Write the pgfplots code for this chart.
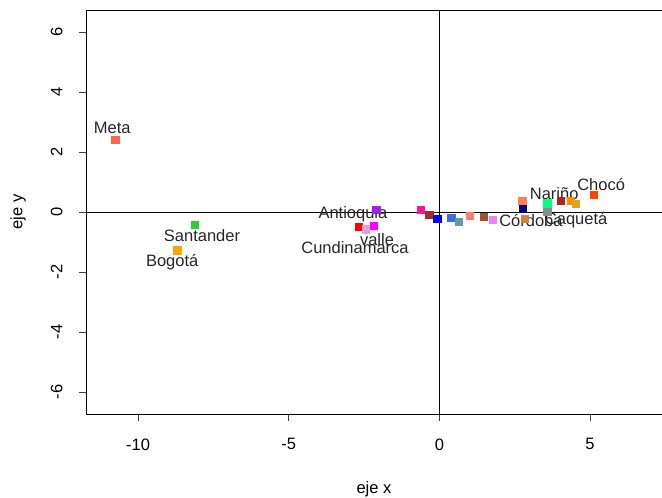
\documentclass[border=0pt]{standalone}
\usepackage{pgfplots}
\pgfplotsset{compat=1.18}
\usepackage{fontspec}
\setmainfont{Liberation Sans}
\definecolor{ctomato}{HTML}{FF6347}
\definecolor{climegreen}{HTML}{32CD32}
\definecolor{corange}{HTML}{FFA500}
\definecolor{cpurple}{HTML}{A020F0}
\definecolor{cred}{HTML}{FF0000}
\definecolor{cplum}{HTML}{DDA0DD}
\definecolor{cmagenta}{HTML}{FF00FF}
\definecolor{cdeeppink}{HTML}{FF1493}
\definecolor{cbrown}{HTML}{A52A2A}
\definecolor{cblue}{HTML}{0000FF}
\definecolor{croyalblue}{HTML}{4169E1}
\definecolor{ccadetblue}{HTML}{5F9EA0}
\definecolor{csalmon}{HTML}{FA8072}
\definecolor{csienna}{HTML}{A0522D}
\definecolor{cviolet}{HTML}{EE82EE}
\definecolor{ccoral}{HTML}{FF7F50}
\definecolor{cnavy}{HTML}{000080}
\definecolor{cperu}{HTML}{CD853F}
\definecolor{cspringgreen}{HTML}{00FF7F}
\definecolor{cgray}{HTML}{8C8C8C}
\definecolor{cfirebrick}{HTML}{B22222}
\definecolor{cdarkorange}{HTML}{FF8C00}
\definecolor{cgoldenrod}{HTML}{DAA520}
\definecolor{corangered}{HTML}{FF4500}
\begin{document}
\begin{tikzpicture}
\useasboundingbox (-86pt,-84pt) rectangle (576pt,414pt);
\begin{axis}[
  at={(0,0)}, anchor=south west,
  width=576pt, height=404pt, scale only axis,
  xmin=-11.73, xmax=7.39, ymin=-6.73, ymax=6.73,
  axis x line=box, axis y line=left,
  axis line style={line width=0.8pt, -},
  xtick={-10,-5,0,5}, ytick={-6,-4,-2,0,2,4,6},
  xtick pos=bottom, ytick pos=left,
  tick align=outside, major tick length=7pt,
  tick style={line width=0.8pt, black!75},
  /pgf/number format/assume math mode=true,
  ticklabel style={font=\fontsize{16.5}{19}\selectfont},
  xticklabel style={yshift=-14pt},
  yticklabel style={rotate=90, anchor=south, yshift=13pt},
  xlabel={eje x}, ylabel={eje y},
  label style={font=\fontsize{16.5}{19}\selectfont},
  xlabel style={at={(axis description cs:0.5,-0.1856)}, anchor=center},
  ylabel style={at={(axis description cs:-0.118,0.5)}, anchor=center, rotate=0},
  clip=false,
  every axis plot/.append style={only marks, mark=square*, mark size=3.6pt},
]
\draw[line width=0.8pt] (axis cs:-11.73,0) -- (axis cs:7.39,0);
\draw[line width=0.8pt] (axis cs:0,-6.73) -- (axis cs:0,6.73);
\addplot[color=ctomato] coordinates {(-10.76,2.40)};
\addplot[color=climegreen] coordinates {(-8.11,-0.43)};
\addplot[color=corange] coordinates {(-8.70,-1.27)};
\addplot[color=cpurple] coordinates {(-2.10,0.08)};
\addplot[color=cred] coordinates {(-2.68,-0.49)};
\addplot[color=cplum] coordinates {(-2.44,-0.57)};
\addplot[color=cmagenta] coordinates {(-2.18,-0.46)};
\addplot[color=cdeeppink] coordinates {(-0.63,0.07)};
\addplot[color=cbrown] coordinates {(-0.34,-0.08)};
\addplot[color=cblue] coordinates {(-0.07,-0.23)};
\addplot[color=croyalblue] coordinates {(0.39,-0.19)};
\addplot[color=ccadetblue] coordinates {(0.63,-0.33)};
\addplot[color=csalmon] coordinates {(1.00,-0.12)};
\addplot[color=csienna] coordinates {(1.48,-0.16)};
\addplot[color=cviolet] coordinates {(1.77,-0.26)};
\addplot[color=ccoral] coordinates {(2.75,0.38)};
\addplot[color=cnavy] coordinates {(2.76,0.12)};
\addplot[color=cperu] coordinates {(2.82,-0.23)};
\addplot[color=cspringgreen] coordinates {(3.58,0.29)};
\addplot[color=cgray] coordinates {(3.58,0.01)};
\addplot[color=cfirebrick] coordinates {(4.03,0.38)};
\addplot[color=cdarkorange] coordinates {(4.37,0.38)};
\addplot[color=cgoldenrod] coordinates {(4.52,0.27)};
\addplot[color=corangered] coordinates {(5.11,0.57)};
\begin{scope}[every node/.style={font=\fontsize{16.5}{19}\selectfont, anchor=base, inner sep=0pt, text=black!85}]
\node at (axis cs:-10.86,2.63) {Meta};
\node at (axis cs:-7.88,-0.97) {Santander};
\node at (axis cs:-8.87,-1.80) {Bogotá};
\node at (axis cs:-2.87,-0.20) {Antioquia};
\node at (axis cs:-2.07,-1.13) {valle};
\node at (axis cs:-2.80,-1.37) {Cundinamarca};
\node at (axis cs:3.04,-0.47) {Córdoba};
\node at (axis cs:3.81,0.40) {Nariño};
\node at (axis cs:4.54,-0.40) {Caquetá};
\node at (axis cs:5.37,0.73) {Chocó};
\end{scope}
\end{axis}
\end{tikzpicture}
\end{document}
